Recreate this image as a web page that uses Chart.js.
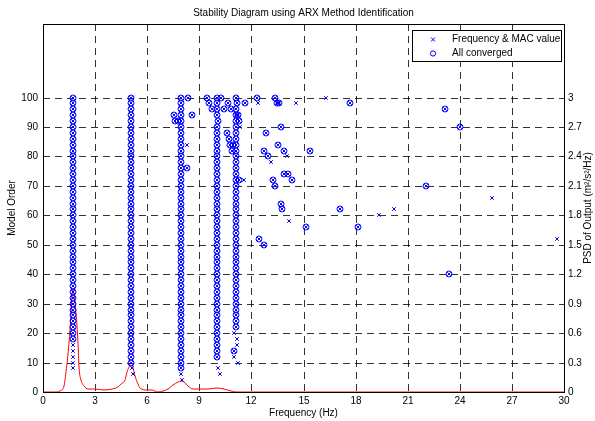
<!DOCTYPE html>
<html>
<head>
<meta charset="utf-8">
<title>Stability Diagram</title>
<script src="https://cdn.jsdelivr.net/npm/chart.js@4.4.1/dist/chart.umd.min.js"></script>
<style>
  html, body { margin: 0; padding: 0; background: #fff; }
  #wrap { width: 595px; height: 421px; }
</style>
</head>
<body>
<div id="wrap"><canvas id="stabChart" width="595" height="421"></canvas></div>
<script>
// Stability diagram (ARX) with PSD overlay

const titleText = 'Stability Diagram using ARX Method Identification';
const xTitle = 'Frequency (Hz)';
const yTitle = 'Model Order';
const y2Title = 'PSD of Output (m²/s²/Hz)';
const legendLabels = ['Frequency & MAC value', 'All converged'];

const modelOrders = [2, 4, 6, 8, 10, 12, 14, 16, 18, 20,
  22, 24, 26, 28, 30, 32, 34, 36, 38, 40,
  42, 44, 46, 48, 50, 52, 54, 56, 58, 60,
  62, 64, 66, 68, 70, 72, 74, 76, 78, 80,
  82, 84, 86, 88, 90, 92, 94, 96, 98, 100];

// identified frequency per model order for the five physical modes (null = no pole)
const mode1Freq = [null, null, null, 1.72, 1.72, 1.72, 1.72, 1.72, 1.71, 1.71,
  1.71, 1.71, 1.71, 1.71, 1.71, 1.71, 1.71, 1.71, 1.71, 1.71,
  1.71, 1.71, 1.71, 1.71, 1.71, 1.71, 1.71, 1.71, 1.71, 1.71,
  1.71, 1.71, 1.71, 1.71, 1.71, 1.71, 1.71, 1.71, 1.71, 1.71,
  1.71, 1.71, 1.71, 1.71, 1.71, 1.71, 1.71, 1.71, 1.71, 1.71];
const mode2Freq = [null, null, 5.2, 5.12, 5.08, 5.08, 5.08, 5.08, 5.08, 5.08,
  5.08, 5.08, 5.08, 5.08, 5.08, 5.08, 5.08, 5.08, 5.08, 5.08,
  5.08, 5.08, 5.08, 5.08, 5.08, 5.08, 5.08, 5.08, 5.08, 5.08,
  5.08, 5.08, 5.08, 5.08, 5.08, 5.08, 5.08, 5.08, 5.08, 5.08,
  5.08, 5.08, 5.08, 5.08, 5.08, 5.08, 5.08, 5.08, 5.08, 5.08];
const mode3Freq = [null, 7.98, 7.95, 7.93, 7.93, 7.93, 7.93, 7.93, 7.93, 7.93,
  7.93, 7.93, 7.93, 7.93, 7.93, 7.93, 7.93, 7.93, 7.93, 7.93,
  7.93, 7.93, 7.93, 7.93, 7.93, 7.93, 7.93, 7.93, 7.93, 7.93,
  7.93, 7.93, 7.93, 7.93, 7.93, 7.93, 7.93, 7.93, 7.93, 7.93,
  7.93, 7.93, 7.93, 7.93, 7.93, 7.93, 7.93, 7.93, 7.93, 7.93];
const mode4Freq = [null, null, 10.17, 10.05, null, 10.02, 10.02, 10.02, 10.02, 10.02,
  10.02, 10.02, 10.02, 10.02, 10.02, 10.02, 10.02, 10.02, 10.02, 10.02,
  10.02, 10.02, 10.02, 10.02, 10.02, 10.02, 10.02, 10.02, 10.02, 10.02,
  10.02, 10.02, 10.02, 10.02, 10.02, 10.02, 10.02, 10.02, 10.02, 10.02,
  10.02, 10.02, 10.03, 10.02, 10.02, 10.08, 10.04, 10.04, 10.04, 10.0];
const mode5Freq = [null, null, null, null, 11.2, 10.98, 11.01, 11.15, 11.15, 11.01,
  11.1, 11.1, 11.1, 11.1, 11.1, 11.1, 11.1, 11.1, 11.1, 11.1,
  11.1, 11.1, 11.1, 11.1, 11.1, 11.1, 11.1, 11.1, 11.1, 11.1,
  11.1, 11.1, 11.1, 11.1, 11.12, 11.1, 11.1, 11.1, 11.1, 11.1,
  11.1, 11.1, 11.12, 11.12, 11.12, 11.14, 11.12, 11.11, 11.17, 11.11];
const modeFreqs = [mode1Freq, mode2Freq, mode3Freq, mode4Freq, mode5Freq];
// lowest order from which each mode is flagged as converged
const modeStableFrom = [18, 10, 8, 12, 22];

// other converged poles
const extraStableFreq = [8.33, 9.42, 10.27, 12.32, 13.37,
  9.54, 10.67, 11.63, 13.5, 13.6, 17.65,
  9.73, 10.42, 10.81, 23.12,
  7.52, 8.6, 11.24,
  7.58, 7.77, 11.3,
  13.68, 24.0,
  10.57, 12.84,
  10.72,
  10.77, 10.96, 13.51,
  10.86, 12.75, 13.89, 15.35,
  12.94,
  8.31,
  13.87, 14.12,
  11.28, 13.26, 14.32,
  13.36, 22.04,
  13.68,
  13.74, 17.12,
  15.13, 18.15,
  12.45,
  12.7,
  23.37,
  11.01];
const extraStableOrder = [100, 100, 100, 100, 100,
  98, 98, 98, 98, 98, 98,
  96, 96, 96, 96,
  94, 94, 94,
  92, 92, 92,
  90, 90,
  88, 88,
  86,
  84, 84, 84,
  82, 82, 82, 82,
  80,
  76,
  74, 74,
  72, 72, 72,
  70, 70,
  64,
  62, 62,
  56, 56,
  52,
  50,
  40,
  14];

// poles that did not converge
const extraPoleFreq = [16.3, 12.4, 14.55, 11.34, 8.27, 14.03, 13.13, 11.57, 25.87, 20.2, 19.36, 14.18, 29.61];
const extraPoleOrder = [100, 98, 98, 90, 84, 80, 78, 72, 66, 62, 60, 58, 52];

// output PSD (right axis)
const psdFreq = [0, 0.8, 1.0, 1.2, 1.35, 1.5, 1.6, 1.68, 1.74, 1.8,
  1.9, 2.0, 2.1, 2.2, 2.35, 2.6, 3.0, 3.5, 4.0, 4.3,
  4.5, 4.7, 4.85, 5.05, 5.2, 5.3, 5.45, 5.6, 6.0, 6.3,
  6.6, 6.9, 7.2, 7.5, 7.75, 7.93, 8.1, 8.35, 8.65, 9.0,
  9.5, 10.0, 10.4, 10.8, 11.1, 12.0, 30];
const psdValue = [0.005, 0.005, 0.01, 0.06, 0.2, 0.5, 0.8, 0.98, 1.05, 1.0,
  0.8, 0.5, 0.25, 0.12, 0.06, 0.035, 0.03, 0.025, 0.03, 0.05,
  0.08, 0.12, 0.2, 0.276, 0.24, 0.16, 0.08, 0.04, 0.025, 0.02,
  0.004, 0.015, 0.035, 0.07, 0.105, 0.116, 0.105, 0.065, 0.035, 0.028,
  0.035, 0.044, 0.035, 0.015, 0.004, 0.003, 0.002];

const FONT = '10px "Liberation Sans", Arial, sans-serif';
const BLUE = '#0000ff';

// build point lists
const allPoles = [];
const convergedPoles = [];
modeFreqs.forEach((freqs, m) => {
  freqs.forEach((f, i) => {
    if (f === null) return;
    const pt = { x: f, y: modelOrders[i] };
    allPoles.push(pt);
    if (modelOrders[i] >= modeStableFrom[m]) convergedPoles.push(pt);
  });
});
extraStableFreq.forEach((f, i) => {
  const pt = { x: f, y: extraStableOrder[i] };
  allPoles.push(pt);
  convergedPoles.push(pt);
});
extraPoleFreq.forEach((f, i) => allPoles.push({ x: f, y: extraPoleOrder[i] }));
const psdPoints = psdFreq.map((f, i) => ({ x: f, y: psdValue[i] }));

const frameAndLabels = {
  id: 'frameAndLabels',
  afterDraw(chart) {
    const ctx = chart.ctx;
    const a = chart.chartArea;
    ctx.save();
    ctx.strokeStyle = '#000';
    ctx.lineWidth = 1;
    ctx.strokeRect(Math.round(a.left) + 0.5, Math.round(a.top) + 0.5,
      Math.round(a.right - a.left), Math.round(a.bottom - a.top));

    ctx.fillStyle = '#000';
    ctx.font = FONT;
    ctx.textAlign = 'center';
    ctx.textBaseline = 'middle';
    const cx = (a.left + a.right) / 2;
    const cy = (a.top + a.bottom) / 2;
    ctx.fillText(titleText, cx, 13);
    ctx.fillText(xTitle, cx, 413);

    ctx.save();
    ctx.translate(12, cy);
    ctx.rotate(-Math.PI / 2);
    ctx.fillText(yTitle, 0, 0);
    ctx.restore();

    ctx.save();
    ctx.translate(588, cy);
    ctx.rotate(-Math.PI / 2);
    ctx.fillText(y2Title, 0, 0);
    ctx.restore();

    // legend box, top right inside the axes
    const lx = 412.5, ly = 30.5, lw = 149, lh = 31;
    ctx.fillStyle = '#fff';
    ctx.fillRect(lx, ly, lw, lh);
    ctx.strokeStyle = '#000';
    ctx.strokeRect(lx, ly, lw, lh);

    ctx.strokeStyle = BLUE;
    ctx.lineWidth = 1;
    const mx = 433, r1 = 39.5, r2 = 53.5;
    ctx.beginPath();
    ctx.moveTo(mx - 2, r1 - 2); ctx.lineTo(mx + 2, r1 + 2);
    ctx.moveTo(mx + 2, r1 - 2); ctx.lineTo(mx - 2, r1 + 2);
    ctx.stroke();
    ctx.beginPath();
    ctx.arc(mx, r2, 2.6, 0, Math.PI * 2);
    ctx.stroke();

    ctx.fillStyle = '#000';
    ctx.textAlign = 'left';
    ctx.fillText(legendLabels[0], 452, r1);
    ctx.fillText(legendLabels[1], 452, r2);
    ctx.restore();
  }
};

const gridStyle = { color: 'rgba(0,0,0,0.8)', lineWidth: 1, drawTicks: false };

new Chart(document.getElementById('stabChart').getContext('2d'), {
  type: 'scatter',
  data: {
    datasets: [
      {
        label: legendLabels[1],
        data: convergedPoles,
        pointStyle: 'circle',
        pointRadius: 3,
        borderColor: BLUE,
        backgroundColor: 'rgba(0,0,0,0)',
        borderWidth: 1,
        yAxisID: 'y'
      },
      {
        label: legendLabels[0],
        data: allPoles,
        pointStyle: 'crossRot',
        pointRadius: 2.5,
        borderColor: BLUE,
        borderWidth: 1,
        yAxisID: 'y'
      },
      {
        label: 'PSD',
        data: psdPoints,
        showLine: true,
        borderColor: '#ff0000',
        borderWidth: 1,
        pointRadius: 0,
        cubicInterpolationMode: 'monotone',
        yAxisID: 'y2'
      }
    ]
  },
  options: {
    responsive: false,
    animation: false,
    layout: { padding: { top: 24, left: 0, right: 0, bottom: 0 } },
    plugins: {
      legend: { display: false },
      title: { display: false },
      tooltip: { enabled: false }
    },
    scales: {
      x: {
        type: 'linear',
        min: 0,
        max: 30,
        alignToPixels: true,
        ticks: { stepSize: 3, color: '#000', font: { family: '"Liberation Sans", Arial, sans-serif', size: 10 }, padding: 3, maxRotation: 0 },
        grid: gridStyle,
        border: { display: false, dash: [7, 5] },
        afterFit: s => { s.height = 29; }
      },
      y: {
        type: 'linear',
        position: 'left',
        min: 0,
        max: 125,
        alignToPixels: true,
        ticks: { stepSize: 10, color: '#000', font: { family: '"Liberation Sans", Arial, sans-serif', size: 10 }, padding: 5 },
        grid: gridStyle,
        border: { display: false, dash: [7, 5] },
        afterBuildTicks: s => { s.ticks = s.ticks.filter(t => t.value <= 100); },
        afterFit: s => { s.width = 43; }
      },
      y2: {
        type: 'linear',
        position: 'right',
        min: 0,
        max: 3.75,
        alignToPixels: true,
        ticks: {
          stepSize: 0.3,
          color: '#000',
          font: { family: '"Liberation Sans", Arial, sans-serif', size: 10 },
          padding: 4,
          callback: v => String(Number(v.toFixed(1)))
        },
        grid: { drawOnChartArea: false, drawTicks: false },
        border: { display: false },
        afterBuildTicks: s => { s.ticks = s.ticks.filter(t => t.value <= 3.0001); },
        afterFit: s => { s.width = 31; }
      }
    }
  },
  plugins: [frameAndLabels]
});
</script>
</body>
</html>
